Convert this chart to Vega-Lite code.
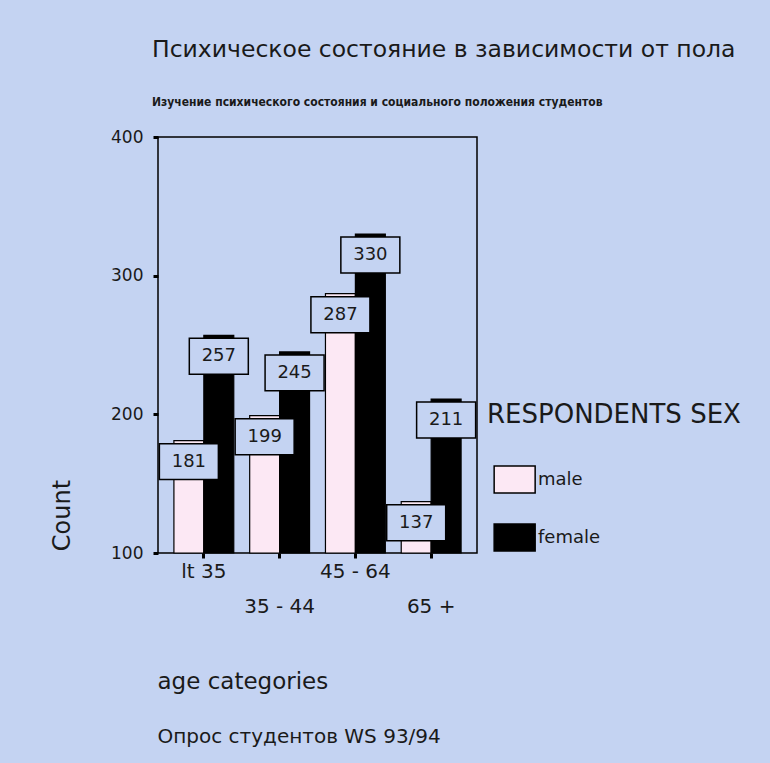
{
  "$schema": "https://vega.github.io/schema/vega-lite/v6.json",
  "width": 319,
  "height": 416,
  "autosize": {"type": "none"},
  "padding": {"left": 158, "top": 137, "right": 293, "bottom": 210},
  "background": "#c4d3f2",
  "config": {
    "font": "DejaVu Sans",
    "view": {"stroke": "black", "strokeWidth": 1.5, "fill": null}
  },
  "title": {
    "text": "Психическое состояние в зависимости от пола",
    "subtitle": "Изучение психического состояния и социального положения студентов",
    "anchor": "start",
    "frame": "group",
    "dx": -6,
    "offset": 20,
    "font": "DejaVu Sans",
    "fontSize": 23.5,
    "fontWeight": "normal",
    "color": "#1a1a1a",
    "subtitleFont": "DejaVu Sans Condensed",
    "subtitleFontSize": 12,
    "subtitleFontWeight": "bold",
    "subtitleColor": "#1a1a1a",
    "subtitlePadding": 36
  },
  "data": {
    "values": [
      {"age": "lt 35", "sex": "male", "count": 181},
      {"age": "lt 35", "sex": "female", "count": 257},
      {"age": "35 - 44", "sex": "male", "count": 199},
      {"age": "35 - 44", "sex": "female", "count": 245},
      {"age": "45 - 64", "sex": "male", "count": 287},
      {"age": "45 - 64", "sex": "female", "count": 330},
      {"age": "65 +", "sex": "male", "count": 137},
      {"age": "65 +", "sex": "female", "count": 211}
    ]
  },
  "encoding": {
    "xOffset": {"field": "sex", "type": "nominal", "sort": ["male", "female"], "scale": {"paddingInner": 0, "paddingOuter": 0}},
    "y": {
      "field": "count",
      "type": "quantitative",
      "scale": {"domain": [100, 400], "zero": false, "nice": false},
      "axis": {
        "values": [100, 200, 300, 400],
        "grid": false,
        "domain": false,
        "tickSize": 5,
        "tickWidth": 3,
        "tickColor": "black",
        "labelFontSize": 17,
        "labelColor": "#1a1a1a",
        "labelPadding": 10,
        "title": "Count",
        "titleFontSize": 24,
        "titleFontWeight": "normal",
        "titleColor": "#1a1a1a",
        "titleAngle": -90,
        "titleX": -84,
        "titleY": 378,
        "titleAlign": "center",
        "titleBaseline": "bottom"
      }
    }
  },
  "layer": [
    {
      "mark": {"type": "bar", "stroke": "black", "strokeWidth": 1.2},
      "encoding": {
        "x": {
          "field": "age",
          "type": "nominal",
          "sort": ["lt 35", "35 - 44", "45 - 64", "65 +"],
          "scale": {"paddingInner": 0.21, "paddingOuter": 0.21},
          "axis": {
            "orient": "bottom",
            "labelAngle": 0,
            "labelFontSize": 20,
            "labelColor": "#1a1a1a",
            "labelPadding": {"condition": {"test": "datum.value === '35 - 44' || datum.value === '65 +'", "value": 38}, "value": 3},
            "tickSize": 5,
            "tickWidth": 3,
            "tickColor": "black",
            "domain": false,
            "title": "age categories",
            "titleFontSize": 23,
            "titleFontWeight": "normal",
            "titleColor": "#1a1a1a",
            "titleX": -1,
            "titleY": 128,
            "titleAlign": "left",
            "titleBaseline": "middle"
          }
        },
        "y2": {"datum": 100},
        "color": {
          "field": "sex",
          "type": "nominal",
          "scale": {"domain": ["male", "female"], "range": ["#fce8f4", "#000000"]},
          "legend": {
            "orient": "none",
            "legendX": 329,
            "legendY": 265,
            "padding": 0,
            "title": "RESPONDENTS SEX",
            "titleFontSize": 26,
            "titleFontWeight": "normal",
            "titleColor": "#1a1a1a",
            "titleLimit": 500,
            "titlePadding": 30,
            "symbolType": "M-0.7,-0.66L1.3,-0.66L1.3,0.66L-0.7,0.66Z",
            "symbolSize": 1681,
            "symbolStrokeColor": "black",
            "symbolStrokeWidth": 1.5,
            "symbolOpacity": 1,
            "labelFontSize": 18,
            "labelColor": "#1a1a1a",
            "labelLimit": 300,
            "labelOffset": 8,
            "rowPadding": 19
          }
        }
      }
    },
    {
      "mark": {"type": "point", "shape": "M-1,0.1L1,0.1L1,1.32L-1,1.32Z", "size": 3481, "filled": true, "fill": "#c4d3f2", "stroke": "black", "strokeWidth": 1.5, "opacity": 1},
      "encoding": {
        "x": {"field": "age", "type": "nominal", "sort": ["lt 35", "35 - 44", "45 - 64", "65 +"], "axis": null}
      }
    },
    {
      "mark": {"type": "text", "dy": 21, "baseline": "middle", "fontSize": 18, "color": "#1a1a1a"},
      "encoding": {
        "text": {"field": "count"},
        "x": {
          "field": "age",
          "type": "nominal",
          "sort": ["lt 35", "35 - 44", "45 - 64", "65 +"],
          "axis": {
            "orient": "bottom",
            "labels": false,
            "ticks": false,
            "domain": false,
            "title": "Опрос студентов WS 93/94",
            "titleFontSize": 20,
            "titleFontWeight": "normal",
            "titleColor": "#1a1a1a",
            "titleX": -1,
            "titleY": 183,
            "titleAlign": "left",
            "titleBaseline": "middle"
          }
        }
      }
    }
  ],
  "resolve": {"axis": {"x": "independent"}}
}
